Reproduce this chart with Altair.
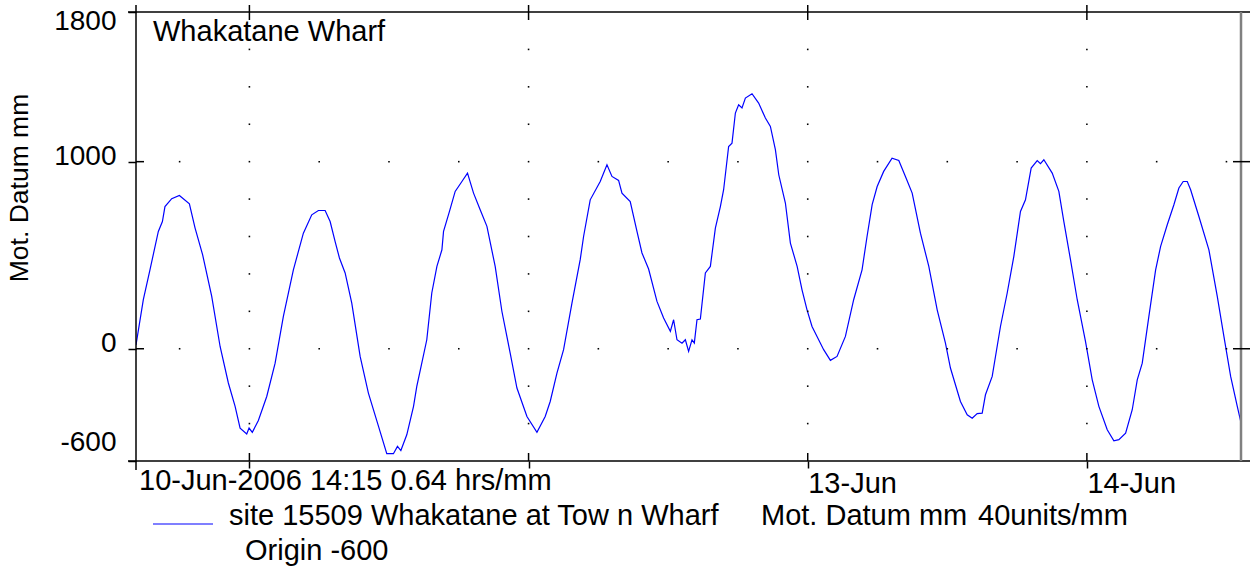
import altair as alt
import pandas as pd

FONT = "Liberation Sans"

# ---- tide record (hours since 10-Jun-2006 14:15, level in mm above Mot. Datum) ----
hours = [
    0.0, 0.63, 1.2, 1.92, 2.27, 2.49, 3.07, 3.73, 4.59, 5.08, 5.73, 6.51, 7.23, 7.94,
    8.52, 8.95, 9.52, 9.72, 10.0, 10.52, 11.24, 11.96, 12.67, 13.53, 14.39, 15.11,
    15.68, 16.26, 16.69, 17.12, 17.49, 17.98, 18.55, 19.27, 19.98, 20.85, 21.56,
    22.13, 22.48, 22.77, 23.28, 23.86, 24.14, 24.57, 25.0, 25.43, 25.87, 26.3,
    26.44, 26.95, 27.44, 28.02, 28.5, 29.02, 29.59, 30.17, 30.88, 31.46, 32.17,
    32.75, 33.61, 34.47, 35.18, 35.61, 36.19, 36.76, 37.48, 38.19, 38.48, 39.05,
    39.91, 40.49, 40.92, 41.49, 41.78, 42.49, 43.07, 43.5, 44.07, 44.79, 45.36,
    45.94, 46.22, 46.51, 46.94, 47.23, 47.51, 47.8, 48.0, 48.23, 48.52, 48.95,
    49.38, 49.81, 50.24, 50.52, 50.95, 51.24, 51.53, 51.81, 52.1, 52.39, 52.96,
    53.53, 54.11, 54.54, 54.97, 55.26, 55.83, 56.26, 56.84, 57.26, 57.69, 58.12,
    58.55, 59.12, 59.7, 60.27, 60.99, 61.7, 62.42, 62.85, 63.29, 63.72, 64.28,
    65.0, 65.58, 66.15, 66.73, 67.44, 68.16, 68.88, 69.59, 70.02, 70.88, 71.46,
    71.89, 72.32, 72.75, 73.03, 73.61, 74.32, 74.9, 75.47, 76.04, 76.47, 76.96,
    77.48, 77.76, 78.05, 78.77, 79.34, 79.77, 80.34, 80.92, 81.63, 82.21, 82.78,
    83.5, 84.07, 84.5, 85.08, 85.65, 86.08, 86.51, 87.08, 87.66, 88.09, 88.66,
    89.23, 89.66, 90.03, 90.38, 90.67, 91.38, 92.24, 92.96, 93.53, 94.11, 94.68,
    95.0,
]
level_mm = [
    20, 262, 422, 627, 680, 760, 802, 819, 775, 645, 502, 280, 12, -183,
    -308, -424, -456, -424, -447, -383, -255, -77, 173, 422, 618, 716,
    739, 739, 680, 573, 485, 405, 244, -41, -237, -415, -561,
    -561, -522, -544, -460, -308, -201, -77, 48, 298, 440, 529,
    627, 734, 841, 894, 939, 832, 743, 654, 440, 199, -23,
    -210, -362, -447, -362, -282, -130, -5, 244, 476, 600, 796,
    894, 983, 921, 900, 832, 787, 627, 512, 426, 253, 164,
    93, 155, 48, 30, 48, -14, 48, 30, 155, 159, 405,
    440, 645, 760, 850, 1081, 1099, 1260, 1304, 1287, 1340, 1363,
    1313, 1233, 1188, 1064, 930, 779, 565, 440, 315, 208, 119,
    66, -5, -62, -41, 66, 262, 422, 600, 770, 867, 948,
    1019, 1006, 921, 832, 618, 440, 208, 30, -103, -282, -353,
    -371, -347, -344, -246, -148, 119, 298, 494, 734, 796, 966,
    1006, 989, 1010, 939, 841, 680, 476, 262, 39, -166, -308,
    -433, -492, -486, -451, -326, -166, -77, 173, 422, 547, 663,
    770, 859, 894, 894, 850, 707, 529, 280, 66, -148, -308,
    -395,
]

# ---- axis / grid values ----
x_domain = [0, 95]
y_domain = [-600, 1800]
day_ticks_h = [9.75, 33.75, 57.75, 81.75]          # 11-Jun .. 14-Jun midnight
y_tick_values = [-600, 0, 1000, 1800]
y_cross_ticks = [0, 1000]
minor_hours = [3.75, 9.75, 15.75, 21.75, 27.75, 33.75, 39.75, 45.75, 51.75,
               57.75, 63.75, 69.75, 75.75, 81.75, 87.75, 93.75]
row_levels = [0, 1000]
column_levels = [-400, -200, 200, 400, 600, 800, 1200, 1400, 1600]

W, H = 1105, 449

xscale = alt.Scale(domain=x_domain, nice=False, zero=False)
yscale = alt.Scale(domain=y_domain, nice=False, zero=False)

label_expr = ("datum.value == 57.75 ? '13-Jun' : "
              "datum.value == 81.75 ? '14-Jun' : ''")

x_axis = alt.Axis(values=day_ticks_h, labelExpr=label_expr, domain=False,
                  grid=False, ticks=True, tickSize=7, tickColor="black",
                  tickWidth=1.5, labelAlign="left", labelBaseline="top",
                  labelPadding=1, labelFontSize=29, labelFont=FONT,
                  labelColor="black", labelFlush=False, labelOverlap=False,
                  labelBound=False, title=None)
y_axis = alt.Axis(values=y_tick_values, labelExpr="datum.value + ''",
                  domain=False, grid=False, ticks=True, tickSize=8,
                  tickColor="black", tickWidth=1.5, labelPadding=12,
                  labelFontSize=28, labelFont=FONT, labelColor="black",
                  labelFlush=True, labelOffset=-5, labelOverlap=False, title=None)


def X(field):
    return alt.X(field, type="quantitative", scale=xscale, axis=x_axis)


def Y(field):
    return alt.Y(field, type="quantitative", scale=yscale, axis=y_axis)


df = pd.DataFrame({"hours": hours, "level": level_mm})
one = pd.DataFrame({"k": [0]})

line = alt.Chart(df).mark_line(color="#0000ff", strokeWidth=1.2, clip=True).encode(
    x=X("hours"), y=Y("level"))

# minor dotted grid
dots_df = pd.DataFrame(
    [{"h": h, "v": v} for h in minor_hours for v in row_levels]
    + [{"h": h, "v": v} for h in day_ticks_h for v in column_levels]
)
dots = alt.Chart(dots_df).mark_square(size=2.5, color="black", opacity=1).encode(
    x=X("h"), y=Y("v"))


# frame lines
def vrule(x, y1, y2, color="black", w=1.5):
    return alt.Chart(one).mark_rule(color=color, strokeWidth=w).encode(
        x=alt.value(x), y=alt.value(y1), y2=alt.value(y2))


def hrule(y, x1, x2, color="black", w=1.5):
    return alt.Chart(one).mark_rule(color=color, strokeWidth=w).encode(
        y=alt.value(y), x=alt.value(x1), x2=alt.value(x2))


frame = [
    hrule(0, -8, W + 9),
    hrule(H, -8, W + 9),
    vrule(0, -7, H + 9),
    vrule(W, 0, H, color="#808080", w=2.5),
]

days_df = pd.DataFrame({"h": day_ticks_h})
top_ticks = alt.Chart(days_df).mark_rule(color="black", strokeWidth=1.5).encode(
    x=X("h"), y=alt.value(-7), y2=alt.value(8))
bottom_in_ticks = alt.Chart(days_df).mark_rule(color="black", strokeWidth=1.5).encode(
    x=X("h"), y=alt.value(H - 8), y2=alt.value(H))

cross_df = pd.DataFrame({"v": y_cross_ticks})
left_in_ticks = alt.Chart(cross_df).mark_rule(color="black", strokeWidth=1.5).encode(
    y=Y("v"), x=alt.value(0), x2=alt.value(8))
right_ticks = alt.Chart(cross_df).mark_rule(color="black", strokeWidth=1.5).encode(
    y=Y("v"), x=alt.value(W - 8), x2=alt.value(W + 9))


def txt(s, x, y, size=29, align="left", angle=None, baseline="alphabetic"):
    kw = dict(text=s, align=align, baseline=baseline, fontSize=size, font=FONT,
              color="black")
    if angle is not None:
        kw["angle"] = angle
    return alt.Chart(one).mark_text(**kw).encode(x=alt.value(x), y=alt.value(y))


texts = [
    txt("Whakatane Wharf", 17, 29),
    txt("10-Jun-2006 14:15 0.64 hrs/mm", 3, 478),
    txt("site 15509 Whakatane at Tow n Wharf", 93, 513),
    txt("Mot. Datum mm", 625, 513),
    txt("40units/mm", 842, 513),
    txt("Origin -600", 109, 548),
    txt("Mot. Datum mm", -116, 176, size=26.5, align="center", angle=270,
        baseline="middle"),
]

legend_line = alt.Chart(one).mark_rule(color="#0000ff", strokeWidth=1.2).encode(
    x=alt.value(17), x2=alt.value(77), y=alt.value(512))

chart = alt.layer(
    line, dots, *frame, top_ticks, bottom_in_ticks, left_in_ticks, right_ticks,
    legend_line, *texts,
).properties(
    width=W, height=H,
    autosize=alt.AutoSizeParams(type="none"),
    padding={"left": 136, "top": 12, "right": 9, "bottom": 111},
    background="white",
).configure_view(stroke=None)

chart.save("out.html", embed_options={"renderer": "svg", "actions": False})
